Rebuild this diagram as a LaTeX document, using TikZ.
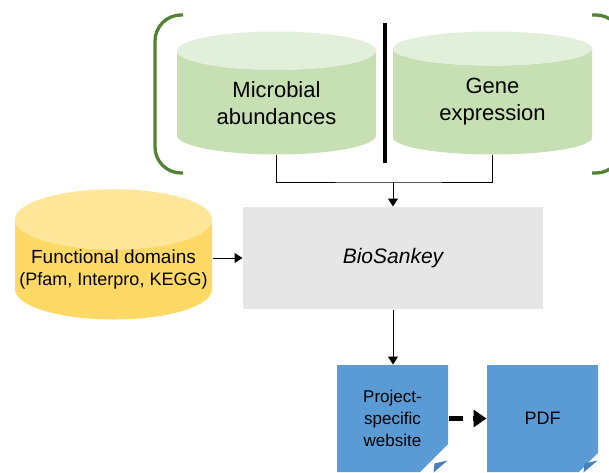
\documentclass[tikz,border=0pt]{standalone}
\usepackage{fontspec}
\setmainfont{Liberation Sans}
\usetikzlibrary{arrows.meta, shapes.geometric, shapes.misc, calc}
\definecolor{cgreen}{HTML}{C6E0B4}
\definecolor{cgreentop}{HTML}{E2EFDA}
\definecolor{cbracket}{HTML}{548235}
\definecolor{cyellow}{HTML}{FFD966}
\definecolor{cyellowtop}{HTML}{FFE699}
\definecolor{cgreybox}{HTML}{E7E6E6}
\definecolor{cblue}{HTML}{5B9BD5}
\definecolor{cfold}{HTML}{4A7EBB}
\tikzset{
  every picture/.style={line width=1pt},
  store/.style={cylinder, shape border rotate=90, aspect=0.32, draw=none,
    minimum width=199pt, minimum height=123pt, inner sep=0pt, align=center,
    cylinder uses custom fill, cylinder body fill=#1, cylinder end fill=#1top},
  store/.default=cgreen,
  doc/.style={chamfered rectangle, chamfered rectangle corners=south east,
    chamfered rectangle xsep=15pt, chamfered rectangle ysep=13pt,
    fill=cblue, minimum width=111pt, minimum height=107pt, inner sep=0pt, align=center,
    font=\fontsize{17}{22}\selectfont},
  arrow/.style={-{Triangle[length=8pt, width=10pt]}},
  bracket/.style={draw=cbracket, line width=3.3pt, rounded corners=26pt},
}

\begin{document}
\begin{tikzpicture}[x=1pt, y=-1pt]
  \useasboundingbox (0,0) rectangle (609,472);
  % input tables
  \node[store, anchor=bottom, font=\fontsize{22}{27}\selectfont] (micro) at (276.5,155) {Microbial\\abundances};
  \node[store, anchor=bottom, font=\fontsize{22}{27}\selectfont] (gene) at (492.5,155) {Gene\\expression};
  \node[store=cyellow, anchor=bottom, minimum width=197pt, minimum height=115pt,
    font=\fontsize{19}{22}\selectfont] (func) at (113.5,320)
    {Functional domains\\{\fontsize{18}{22}\selectfont(Pfam, Interpro, KEGG)}};
  % brackets and separator
  \draw[bracket] (183,15) -- (155,15) -- (155,173) -- (183,173);
  \draw[bracket] (592,15) -- (622,15) -- (622,173) -- (592,173);
  \coordinate (septop) at (385,23);
  \coordinate (sepbot) at (385,163);
  \draw[line width=3.5pt] (septop) -- (sepbot);
  % tool
  \node[fill=cgreybox, minimum width=300pt, minimum height=102pt,
    font=\fontsize{21}{25}\selectfont\itshape] (bio) at (393,258) {BioSankey};
  % outputs
  \node[doc] (web) at (392.5,418.5) {Project-\\specific\\website};
  \node[doc, font=\fontsize{18}{22}\selectfont] (pdf) at (542.5,418.5) {PDF};
  \foreach \d in {web, pdf}
    \fill[cfold] ($(\d.east |- \d.south)+(-1pt,12pt)$) -- ($(\d.east |- \d.south)+(-14pt,9pt)$)
      -- ($(\d.east |- \d.south)+(-15pt,0pt)$) -- cycle;
  % connectors
  \coordinate (join) at (393,182);
  \draw (micro.bottom) |- (join) -| (gene.bottom);
  \draw[arrow] (join) -- (bio.north);
  \draw[arrow] (func.east |- bio.west) -- (bio.west);
  \draw[arrow] (bio.south) -- (web.north -| bio.south);
  \draw[-{Triangle[length=13pt, width=17pt]}, line width=4.5pt, dash pattern=on 14pt off 10pt]
    (web.east) -- (pdf.west);
\end{tikzpicture}
\end{document}
